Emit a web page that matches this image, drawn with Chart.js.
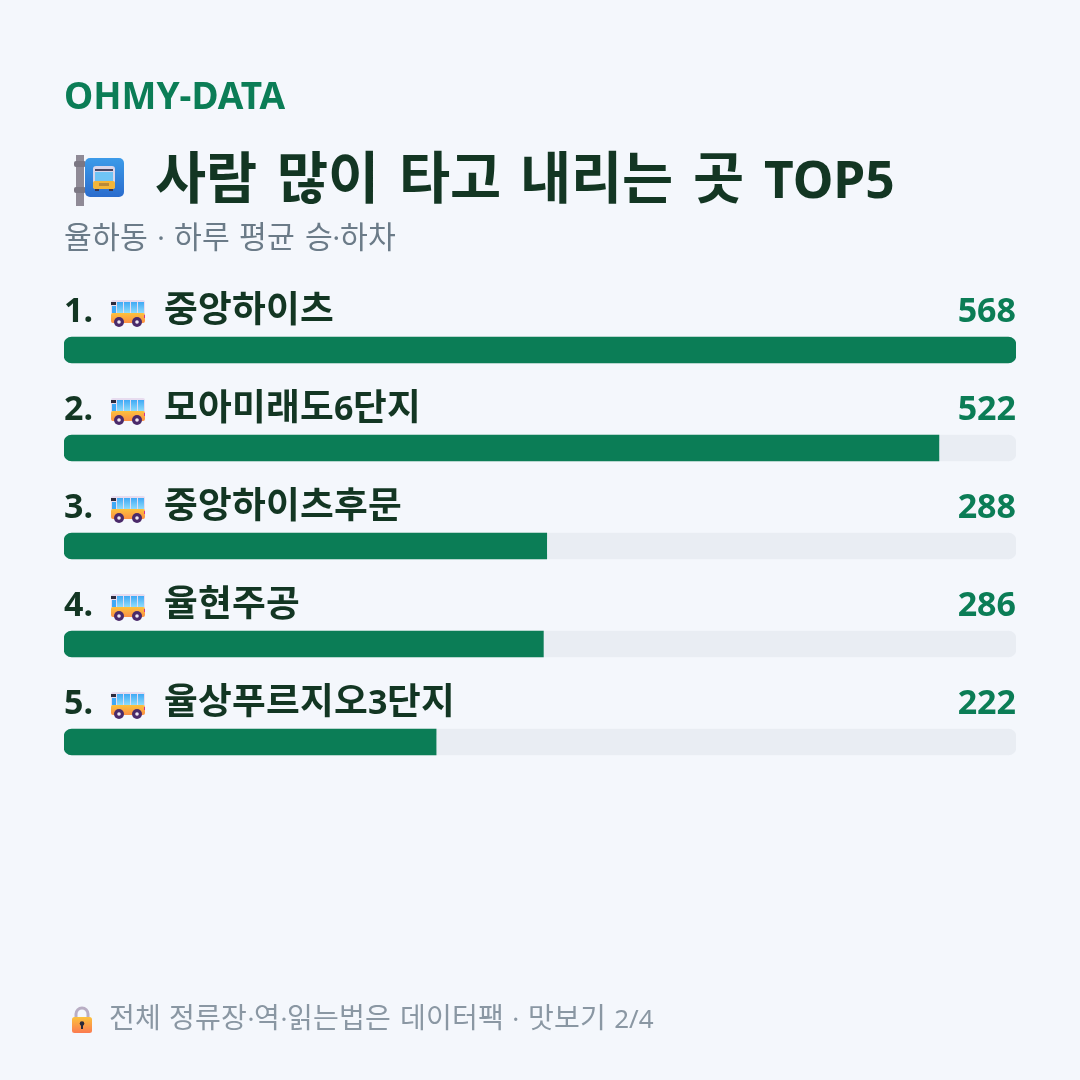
<!DOCTYPE html>
<html lang="ko">
<head>
<meta charset="utf-8">
<title>사람 많이 타고 내리는 곳 TOP5</title>
<script src="https://cdn.jsdelivr.net/npm/chart.js@4"></script>
<style>
  /* hangul runs a bit larger than the latin letters and digits next to it */
  @font-face { font-family: "Hangul Big"; font-weight: 400; unicode-range: U+AC00-D7A3; size-adjust: 108%;
               src: local("Noto Sans CJK KR"), local("Noto Sans CJK KR Regular"); }
  @font-face { font-family: "Hangul Big"; font-weight: 700; unicode-range: U+AC00-D7A3; size-adjust: 108%;
               src: local("Noto Sans CJK KR Bold"); }
  html, body { margin: 0; padding: 0; background: #f4f7fc; }
  #page { position: relative; width: 1080px; height: 1080px; overflow: hidden;
          font-family: "Hangul Big", "Noto Sans", "Noto Sans CJK KR", sans-serif; }
  #chart { position: absolute; left: 0; top: 0; }
  .txt { position: absolute; white-space: nowrap; line-height: 1; }
  #brand { left: 64px; top: 76px; font-size: 37px; font-weight: 700; color: #0b7d56; }
  #title { left: 155px; top: 153px; font-size: 51.5px; font-weight: 700; color: #133623; word-spacing: 6.4px; }
  #sub { left: 64px; top: 223px; font-size: 28px; color: #6b7b88; word-spacing: 2px; }
  #foot { left: 109px; top: 1005px; font-size: 26px; color: #8a97a3; word-spacing: 1.7px; }
  .icon { position: absolute; }
</style>
</head>
<body>
<div id="page">
  <canvas id="chart" width="1080" height="1080"></canvas>
  <div class="txt" id="brand">OHMY-DATA</div>
  <svg class="icon" style="left:70px;top:152px" width="58" height="56" viewBox="0 0 58 56">
    <defs>
      <linearGradient id="signBlue" x1="0" y1="0" x2="0" y2="1">
        <stop offset="0" stop-color="#3c9be9"/><stop offset="1" stop-color="#2a6ccd"/>
      </linearGradient>
    </defs>
    <rect x="6" y="3" width="8" height="51" fill="#8f8a96"/>
    <rect x="4" y="9" width="12" height="6" rx="2" fill="#7b7783"/>
    <rect x="4" y="35" width="12" height="6" rx="2" fill="#7b7783"/>
    <rect x="15" y="6" width="39" height="39" rx="5" fill="url(#signBlue)"/>
    <rect x="23" y="14" width="22" height="23" rx="3" fill="#d9d5ea"/>
    <rect x="25" y="17" width="18" height="2" fill="#4a4560"/>
    <rect x="25" y="20" width="18" height="9" fill="#6fc4f5"/>
    <rect x="23" y="29" width="22" height="8" rx="2" fill="#f3b63a"/>
    <rect x="29" y="31" width="10" height="3" fill="#b98a3a"/>
    <rect x="25" y="37" width="4" height="2" fill="#3a3550"/>
    <rect x="39" y="37" width="4" height="2" fill="#3a3550"/>
  </svg>
  <div class="txt" id="title">사람 많이 타고 내리는 곳 TOP5</div>
  <div class="txt" id="sub">율하동 · 하루 평균 승·하차</div>
  <svg class="icon" style="left:69px;top:1005px" width="26" height="30" viewBox="0 0 26 30">
    <defs>
      <linearGradient id="lockBody" x1="0" y1="0" x2="0" y2="1">
        <stop offset="0" stop-color="#fcc23c"/><stop offset="1" stop-color="#fb7a50"/>
      </linearGradient>
    </defs>
    <path d="M7 13V9a6 6 0 0 1 12 0v4" fill="none" stroke="#b9aec4" stroke-width="3"/>
    <rect x="3" y="12" width="20" height="16" rx="2.5" fill="url(#lockBody)"/>
    <circle cx="13" cy="18.5" r="2.3" fill="#2b2a3a"/>
    <rect x="12" y="19" width="2" height="5" fill="#2b2a3a"/>
  </svg>
  <div class="txt" id="foot">전체 정류장·역·읽는법은 데이터팩 · 맛보기 2/4</div>
</div>
<script>
const stops = ["중앙하이츠", "모아미래도6단지", "중앙하이츠후문", "율현주공", "율상푸르지오3단지"];
const riders = [568, 522, 288, 286, 222];
const axisMax = 568;

const GREEN = "#0b7d56";
const DARK = "#133623";
const TRACK = "#e9edf3";
const FONT = '"Hangul Big", "Noto Sans", "Noto Sans CJK KR", sans-serif';

// little bus in front of each stop name, x/y is its top left corner
function drawBus(ctx, x, y) {
  ctx.save();
  ctx.translate(x, y);
  ctx.fillStyle = "#e7dcef";
  ctx.beginPath();
  ctx.roundRect(0, 0, 34, 22, 2);
  ctx.fill();
  const glass = ctx.createLinearGradient(0, 2, 0, 13);
  glass.addColorStop(0, "#3fa9f5");
  glass.addColorStop(1, "#8fdcfb");
  ctx.fillStyle = glass;
  [[6, 6], [13, 6], [20, 6], [27, 6]].forEach(w => ctx.fillRect(w[0], 2, w[1], 11));
  ctx.fillStyle = "#2c2a3d";
  ctx.fillRect(0, 2, 5, 3);
  ctx.fillStyle = "#3fa9f5";
  ctx.fillRect(1, 6, 4, 7);
  const body = ctx.createLinearGradient(0, 13, 0, 23);
  body.addColorStop(0, "#fdc23c");
  body.addColorStop(1, "#fc8f45");
  ctx.fillStyle = body;
  ctx.beginPath();
  ctx.roundRect(0, 13, 34, 10, 2);
  ctx.fill();
  ctx.fillStyle = "#d8308a";
  ctx.fillRect(33, 15, 1, 3);
  [8, 26].forEach(cx => {
    ctx.fillStyle = "#4a2a6a";
    ctx.beginPath();
    ctx.arc(cx, 22, 5, 0, Math.PI * 2);
    ctx.fill();
    ctx.fillStyle = "#efe8f2";
    ctx.beginPath();
    ctx.arc(cx, 22, 1.8, 0, Math.PI * 2);
    ctx.fill();
  });
  ctx.restore();
}

// rank, bus, stop name and value sit on a line above every bar
const rowLabels = {
  id: "rowLabels",
  afterDatasetsDraw(chart) {
    const ctx = chart.ctx;
    const meta = chart.getDatasetMeta(1);
    const right = chart.scales.x.right;
    ctx.save();
    ctx.textBaseline = "alphabetic";
    meta.data.forEach((bar, i) => {
      const base = bar.y - 28;
      ctx.font = "700 34px " + FONT;
      ctx.fillStyle = DARK;
      ctx.textAlign = "left";
      ctx.fillText((i + 1) + ".", 64, base);
      drawBus(ctx, 111, bar.y - 50);
      ctx.fillText(stops[i], 164, base);
      ctx.fillStyle = GREEN;
      ctx.textAlign = "right";
      ctx.fillText(String(riders[i]), right, base);
    });
    ctx.restore();
  }
};

function drawChart() {
  new Chart(document.getElementById("chart"), {
    type: "bar",
    data: {
      labels: stops,
      datasets: [
        {
          data: riders.map(() => axisMax),
          backgroundColor: TRACK,
          borderRadius: 8,
          borderSkipped: false,
          order: 2
        },
        {
          data: riders,
          backgroundColor: GREEN,
          // the track clips the fill, so only a full bar gets a round right end
          borderRadius: c => c.raw >= axisMax ? 8 : { topLeft: 8, bottomLeft: 8, topRight: 0, bottomRight: 0 },
          borderSkipped: false,
          order: 1
        }
      ]
    },
    options: {
      indexAxis: "y",
      responsive: false,
      animation: false,
      layout: { padding: { left: 64, right: 64, top: 301, bottom: 289 } },
      datasets: { bar: { barThickness: 26, grouped: false } },
      plugins: { legend: { display: false }, tooltip: { enabled: false } },
      scales: {
        x: { display: false, min: 0, max: axisMax },
        y: { display: false }
      }
    },
    plugins: [rowLabels]
  });
}

// canvas text needs the local face loaded before the first paint
document.fonts.load('700 34px "Hangul Big"', "가").then(drawChart, drawChart);
</script>
</body>
</html>
